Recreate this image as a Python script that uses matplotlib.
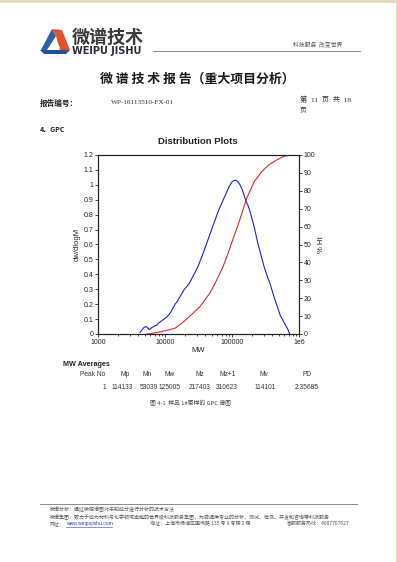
import numpy as np
import matplotlib.pyplot as plt
from matplotlib.patches import Polygon, Rectangle
from matplotlib.ticker import FixedLocator, NullFormatter

# dw/dlogM curve (log10 MW, value)
blue_logm = [3.627, 3.66, 3.69, 3.72, 3.745, 3.76, 3.78, 3.81, 3.85, 3.88, 3.91, 3.94, 3.97,
             4.00, 4.03, 4.06, 4.09, 4.12, 4.15, 4.18, 4.21, 4.25, 4.29, 4.33, 4.37, 4.41,
             4.45, 4.49, 4.52, 4.56, 4.60, 4.64, 4.68, 4.72, 4.76, 4.80, 4.84, 4.88, 4.92,
             4.96, 5.00, 5.03, 5.06, 5.09, 5.12, 5.15, 5.18, 5.21, 5.24, 5.27, 5.30, 5.33,
             5.36, 5.39, 5.42, 5.45, 5.48, 5.51, 5.54, 5.57, 5.60, 5.63, 5.66, 5.69, 5.72,
             5.75, 5.78, 5.81, 5.84, 5.86]
blue_val = [0.01, 0.03, 0.045, 0.05, 0.04, 0.03, 0.035, 0.045, 0.055, 0.06, 0.075, 0.085, 0.095,
            0.105, 0.115, 0.13, 0.15, 0.175, 0.20, 0.215, 0.24, 0.27, 0.30, 0.32, 0.345, 0.38,
            0.415, 0.45, 0.485, 0.53, 0.58, 0.63, 0.68, 0.73, 0.78, 0.83, 0.87, 0.91, 0.95,
            0.99, 1.02, 1.03, 1.03, 1.02, 1.00, 0.97, 0.93, 0.89, 0.86, 0.82, 0.77, 0.72,
            0.66, 0.60, 0.55, 0.50, 0.45, 0.41, 0.37, 0.335, 0.29, 0.245, 0.205, 0.165, 0.125,
            0.10, 0.075, 0.05, 0.025, 0.0]

# cumulative % Ht curve
red_logm = [3.73, 3.80, 3.90, 4.00, 4.149, 4.25, 4.373, 4.522, 4.672, 4.77, 4.866, 4.94,
            5.01, 5.10, 5.219, 5.33, 5.443, 5.55, 5.667, 5.77, 5.866]
red_pct = [0.0, 0.3, 1.0, 1.8, 3.2, 6.0, 10.0, 15.3, 23.0, 30.0, 37.6, 45.0,
           52.5, 62.0, 75.8, 85.0, 90.7, 94.5, 97.2, 99.2, 100.0]

table_headers = ["Peak No", "Mp", "Mn", "Mw", "Mz", "Mz+1", "Mv", "PD"]
table_values = ["1", "114133", "53039", "125005", "217403", "310623", "114101", "2.35685"]

W, H = 398, 562
fig = plt.figure(figsize=(W / 100, H / 100), dpi=100)
fig.patch.set_facecolor("#e6dcc4")

def P(x, y):
    return (x / W, 1 - y / H)

cjk = ["Noto Sans CJK SC", "DejaVu Sans"]
sans = ["Liberation Sans", "DejaVu Sans"]
serif = ["Liberation Serif", "Noto Sans CJK SC"]

# white page
fig.patches.append(Rectangle((0, 0), 395.5 / W, 1 - 2.5 / H, transform=fig.transFigure,
                             facecolor="white", edgecolor="none", zorder=-5))

# logo
fig.patches.append(Polygon([P(41, 50), P(52, 29), P(56, 36), P(47, 50)], closed=True,
                           transform=fig.transFigure, facecolor="#2f5fb0", edgecolor="none"))
fig.patches.append(Polygon([P(52, 29), P(62, 30), P(70, 50), P(60, 50), P(56, 36)], closed=True,
                           transform=fig.transFigure, facecolor="#e2522b", edgecolor="none"))
fig.patches.append(Polygon([P(40, 50), P(70, 50), P(66, 54), P(44, 54)], closed=True,
                           transform=fig.transFigure, facecolor="#2a4f9a", edgecolor="none"))
fig.patches.append(Polygon([P(50, 48), P(55, 39), P(60, 48)], closed=True,
                           transform=fig.transFigure, facecolor="white", edgecolor="none"))
fig.text(*P(72, 43), "微谱技术", family=cjk, fontsize=13, fontweight="bold",
         color="#3a3a3a", va="baseline", ha="left")
fig.text(*P(72, 54.5), "WEIPU JISHU", family=["DejaVu Sans"], fontsize=7.0, fontweight="bold",
         color="#2a2a3a", va="baseline", ha="left")
fig.lines.append(plt.Line2D([153 / W, 360 / W], [1 - 51 / H, 1 - 51 / H],
                            transform=fig.transFigure, color="#8a8a8a", lw=0.7))
fig.text(*P(293, 45), "科技服务  改变世界", family=cjk, fontsize=4.2, color="#555555",
         va="center", ha="left")

# report header
fig.text(*P(197, 79), "微 谱 技 术 报 告（重大项目分析）", family=cjk, fontsize=9.3,
         fontweight="bold", color="#1a1a1a", va="center", ha="center")
fig.text(*P(40, 103), "报告编号：", family=cjk, fontsize=5.5, fontweight="bold",
         color="#222222", va="center", ha="left")
fig.text(*P(111, 103), "WP-16113510-FX-01", family=serif, fontsize=5.2,
         color="#333333", va="center", ha="left")
fig.text(*P(300, 99), "第  11  页  共  18", family=serif, fontsize=5.2,
         color="#333333", va="center", ha="left")
fig.text(*P(300, 109), "页", family=cjk, fontsize=4.8, color="#333333", va="center", ha="left")
fig.text(*P(40, 129), "4、GPC", family=cjk, fontsize=5.0, fontweight="bold",
         color="#222222", va="center", ha="left")

# chart
ax = fig.add_axes([98 / W, 1 - 334 / H, 201 / W, 179 / H])
ax.plot(np.power(10.0, blue_logm), blue_val, color="#2020d8", lw=0.8)
ax.set_xscale("log")
ax.set_xlim(1e3, 1e6)
ax.set_ylim(0, 1.2)
ax.set_yticks(np.arange(0, 1.21, 0.1))
ax.set_yticklabels(["0", "0.1", "0.2", "0.3", "0.4", "0.5", "0.6", "0.7", "0.8", "0.9",
                    "1", "1.1", "1.2"])
ax.xaxis.set_major_locator(FixedLocator([1e3, 1e4, 1e5, 1e6]))
ax.set_xticklabels(["1000", "10000", "100000", "1e6"])
ax.xaxis.set_minor_formatter(NullFormatter())

ax2 = ax.twinx()
ax2.plot(np.power(10.0, red_logm), red_pct, color="#e02828", lw=0.8)
ax2.set_ylim(0, 100)
ax2.set_yticks(np.arange(0, 101, 10))

for a in (ax, ax2):
    for s in a.spines.values():
        s.set_linewidth(0.8)
        s.set_color("#222222")
    a.tick_params(which="major", length=2.5, width=0.6, labelsize=5, pad=1,
                  colors="#222222")
    a.tick_params(which="minor", length=1.5, width=0.5)
    for t in a.get_xticklabels() + a.get_yticklabels():
        t.set_family(sans)

ax.set_ylabel("dw/dlogM", family=sans, fontsize=5.5, labelpad=2, color="#222222")
ax2.set_ylabel("% Ht", family=sans, fontsize=5.5, labelpad=2, rotation=90, color="#222222")
ax.set_xlabel("MW", family=sans, fontsize=5.5, labelpad=1, color="#222222")
fig.text(*P(198, 142), "Distribution Plots", family=sans, fontsize=6.8, fontweight="bold",
         color="#222222", va="center", ha="center")

# MW averages table
fig.text(*P(63, 364.5), "MW Averages", family=sans, fontsize=5.2, fontweight="bold",
         color="#222222", va="center", ha="left")
hdr_x = [93, 125.5, 147.5, 170, 200, 227.5, 264, 307]
val_x = [106, 122, 148.5, 170, 200, 226.5, 265, 306.5]
for h, xh in zip(table_headers, hdr_x):
    fig.text(*P(xh, 375), h, family=sans, fontsize=4.8, color="#333333",
             va="center", ha="center")
for i, (v, xv) in enumerate(zip(table_values, val_x)):
    fig.text(*P(xv, 387.5), v, family=sans, fontsize=4.8, color="#333333",
             va="center", ha="right" if i == 0 else "center")
fig.text(*P(190, 403), "图 4-1  样品 1#原样的 GPC 谱图", family=cjk, fontsize=4.2,
         color="#444444", va="center", ha="center")

# footer
fig.lines.append(plt.Line2D([40 / W, 357 / W], [1 - 504 / H, 1 - 504 / H],
                            transform=fig.transFigure, color="#8a8a8a", lw=0.7))
fs = 3.6
fig.text(*P(50, 509.5), "微谱分析：通过微观谱图对未知成分进行分析的技术方法", family=cjk,
         fontsize=fs, color="#555555", va="center", ha="left")
fig.text(*P(50, 517), "微谱集团：致力于成为材料与化学领域卓越的世界级科技服务集团，为您提供专业的分析、测试、检测、开发和咨询等科技服务",
         family=cjk, fontsize=fs, color="#555555", va="center", ha="left")
fig.text(*P(50, 524), "网址：", family=cjk, fontsize=fs, color="#555555", va="center", ha="left")
fig.text(*P(66, 524), "www.weipujishu.com", family=sans, fontsize=fs, color="#2040c0",
         va="center", ha="left")
fig.lines.append(plt.Line2D([66 / W, 112 / W], [1 - 526.5 / H, 1 - 526.5 / H],
                            transform=fig.transFigure, color="#2040c0", lw=0.4))
fig.text(*P(150, 524), "地址：上海市杨浦区国伟路 135 号 9 号楼 2 楼", family=cjk,
         fontsize=fs, color="#555555", va="center", ha="left")
fig.text(*P(287, 524), "客服服务热线：4007767627", family=cjk, fontsize=fs,
         color="#555555", va="center", ha="left")

fig.savefig("out.png", dpi=100, facecolor=fig.get_facecolor())
